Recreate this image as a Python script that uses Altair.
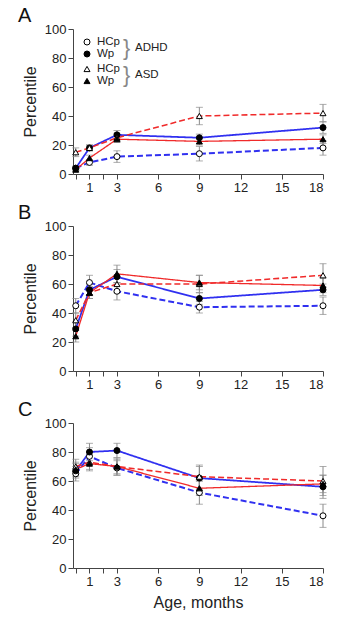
import altair as alt
import pandas as pd

months = [0, 1, 3, 9, 18]
series = ["ADHD HCp", "ADHD Wp", "ASD HCp", "ASD Wp"]

# Panel A
a_adhd_hcp = [4, 8, 12, 14, 18]
a_adhd_wp = [4, 18, 27, 25, 32]
a_asd_hcp = [15, 18, 25, 40, 42]
a_asd_wp = [3, 11, 24, 22.5, 24]
a_err = [[1, 2, 4, 5, 5], [1.5, 2, 3, 2.5, 4], [3, 2, 3, 6, 6], [1, 2, 2, 2.5, 3]]

# Panel B
b_adhd_hcp = [45, 61, 55, 44, 45]
b_adhd_wp = [29, 56, 65, 50, 56]
b_asd_hcp = [35, 54, 60, 60, 66]
b_asd_wp = [24, 54, 67, 61, 59]
b_err = [[5, 5, 6, 4, 6], [5, 4, 5, 4, 4], [5, 4, 6, 6, 8], [4, 4, 6, 5, 5]]

# Panel C
c_adhd_hcp = [65, 77, 69, 52, 36]
c_adhd_wp = [67, 80, 81, 62, 56]
c_asd_hcp = [70, 73, 70, 63, 60]
c_asd_wp = [68, 72, 70, 55, 58]
c_err = [[5, 6, 5, 8, 8], [5, 6, 5, 8, 8], [5, 5, 6, 8, 10], [5, 5, 5, 5, 6]]

panels = {
    "A": ([a_adhd_hcp, a_adhd_wp, a_asd_hcp, a_asd_wp], a_err),
    "B": ([b_adhd_hcp, b_adhd_wp, b_asd_hcp, b_asd_wp], b_err),
    "C": ([c_adhd_hcp, c_adhd_wp, c_asd_hcp, c_asd_wp], c_err),
}

x_ticks = [0, 1, 2, 3, 6, 9, 12, 15, 18]
y_ticks = [0, 20, 40, 60, 80, 100]

legend_labels = ["HCp", "Wp", "HCp", "Wp"]
group_labels = ["ADHD", "ASD"]

FONT = "Liberation Sans"
BLUE = "#3030f0"
RED = "#f02a2a"
W, H = 250, 145

color_scale = alt.Scale(domain=series, range=[BLUE, BLUE, RED, RED])
fill_scale = alt.Scale(domain=series, range=["white", "black", "white", "black"])
shape_scale = alt.Scale(domain=series, range=["circle", "circle", "triangle-up", "triangle-up"])
size_scale = alt.Scale(domain=series, range=[36, 36, 26, 26])


def make_panel(letter, vals, errs, show_xtitle, show_legend):
    rows = []
    for s, v, e in zip(series, vals, errs):
        for m, yv, ev in zip(months, v, e):
            rows.append({"month": m, "value": yv, "lo": yv - ev, "hi": yv + ev, "series": s})
    df = pd.DataFrame(rows)
    base = alt.Chart(df)
    thick = letter == "A"
    dash = [6, 3] if thick else [3, 2]
    dash_scale = alt.Scale(domain=series, range=[dash, [1, 0], dash, [1, 0]])
    width_scale = alt.Scale(domain=series, range=[2.0, 1.3, 2.0, 1.3] if thick else [1.1, 1.3, 1.1, 1.3])
    x_scale = alt.Scale(domain=[-0.2, 18], nice=False, zero=False)
    y_scale = alt.Scale(domain=[0, 100], nice=False)
    x_axis = alt.Axis(
        values=x_ticks,
        tickCount=20,
        labelExpr="(datum.value == 0 || datum.value == 2) ? '' : datum.label",
        title="Age, months" if show_xtitle else None,
        grid=False,
        labelOverlap=False,
    )
    y_axis = alt.Axis(values=y_ticks, tickCount=20, title="Percentile", grid=False, labelOverlap=False)
    xenc = alt.X("month:Q", scale=x_scale, axis=x_axis)
    rules = base.mark_rule(color="#8a8a8a", strokeWidth=1).encode(
        x=xenc, y=alt.Y("lo:Q", scale=y_scale, axis=y_axis), y2="hi:Q"
    )
    cap_lo = base.mark_tick(color="#8a8a8a", orient="horizontal", size=7, thickness=1).encode(
        x=xenc, y=alt.Y("lo:Q", scale=y_scale, axis=y_axis)
    )
    cap_hi = base.mark_tick(color="#8a8a8a", orient="horizontal", size=7, thickness=1).encode(
        x=xenc, y=alt.Y("hi:Q", scale=y_scale, axis=y_axis)
    )
    lines = base.mark_line().encode(
        x=xenc,
        y=alt.Y("value:Q", scale=y_scale, axis=y_axis),
        color=alt.Color("series:N", scale=color_scale, legend=None),
        strokeDash=alt.StrokeDash("series:N", scale=dash_scale, legend=None),
        strokeWidth=alt.StrokeWidth("series:N", scale=width_scale, legend=None),
        detail="series:N",
    )
    points = base.mark_point(filled=True, stroke="black", strokeWidth=1, opacity=1).encode(
        x=xenc,
        y=alt.Y("value:Q", scale=y_scale, axis=y_axis),
        fill=alt.Fill("series:N", scale=fill_scale, legend=None),
        shape=alt.Shape("series:N", scale=shape_scale, legend=None),
        size=alt.Size("series:N", scale=size_scale, legend=None),
    )
    letter_df = pd.DataFrame({"t": [letter]})
    letter_mark = alt.Chart(letter_df).mark_text(
        font=FONT, fontSize=20, align="left", baseline="middle", color="#111"
    ).encode(text="t:N", x=alt.value(-55), y=alt.value(-13))
    layers = [rules, cap_lo, cap_hi, lines, points, letter_mark]
    if show_legend:
        ldf = pd.DataFrame({
            "label": legend_labels,
            "series": series,
            "py": [13 + 12 * i + (3 if i >= 2 else 0) for i in range(4)],
        })
        lsym = alt.Chart(ldf).mark_point(filled=True, stroke="black", strokeWidth=1, opacity=1).encode(
            x=alt.value(14),
            y=alt.Y("py:Q", scale=None),
            fill=alt.Fill("series:N", scale=fill_scale, legend=None),
            shape=alt.Shape("series:N", scale=shape_scale, legend=None),
            size=alt.Size("series:N", scale=size_scale, legend=None),
        )
        ltxt = alt.Chart(ldf).mark_text(
            font=FONT, fontSize=11.5, align="left", baseline="middle", color="#222"
        ).encode(x=alt.value(24), y=alt.Y("py:Q", scale=None), text="label:N")
        gdf = pd.DataFrame({"g": group_labels, "py": [19, 46]})
        brace = alt.Chart(gdf).mark_text(
            font=FONT, fontSize=22, align="left", baseline="middle", color="#888", fontWeight=300
        ).encode(x=alt.value(50), y=alt.Y("py:Q", scale=None), text=alt.value("}"))
        gtxt = alt.Chart(gdf).mark_text(
            font=FONT, fontSize=11.5, align="left", baseline="middle", color="#222"
        ).encode(x=alt.value(62), y=alt.Y("py:Q", scale=None), text="g:N")
        layers += [lsym, ltxt, brace, gtxt]
    return alt.layer(*layers).properties(width=W, height=H)


charts = []
for i, (letter, (vals, errs)) in enumerate(panels.items()):
    charts.append(make_panel(letter, vals, errs, letter == "C", letter == "A"))

chart = alt.vconcat(*charts, spacing=9).properties(
    padding={"left": 18, "top": 6, "right": 10, "bottom": 5}
).configure_view(stroke=None).configure_axis(
    labelFont=FONT, titleFont=FONT, labelFontSize=13, titleFontSize=16,
    labelColor="#222", titleColor="#222", titleFontWeight="normal",
    domainColor="#444", tickColor="#444", tickSize=5, labelPadding=2,
    titlePadding=6, labelOverlap=False,
)

chart.save("out.html", embed_options={"renderer": "svg", "actions": False})
